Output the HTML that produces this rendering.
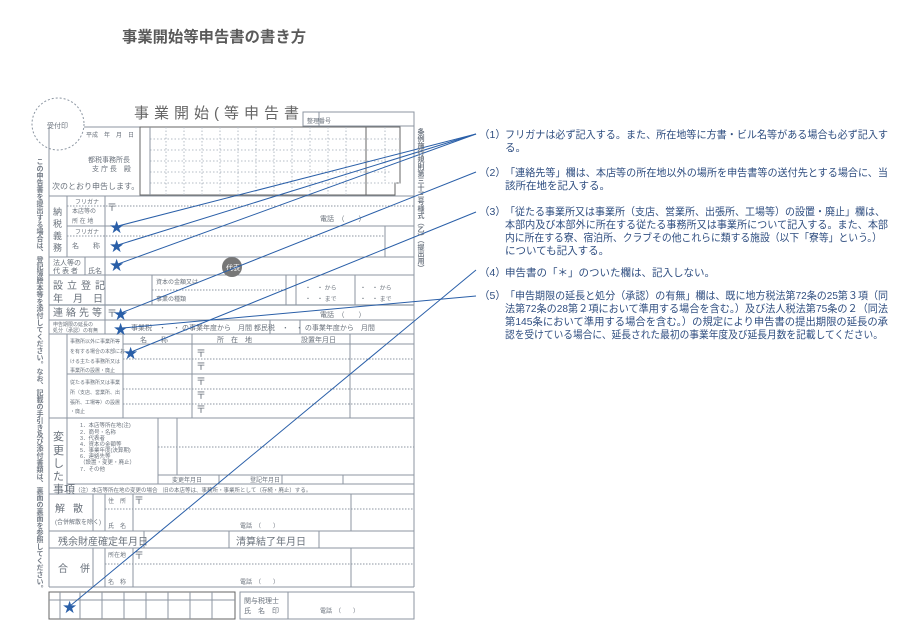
<!DOCTYPE html>
<html><head><meta charset="utf-8"><style>
html,body{margin:0;padding:0;background:#fff;}
body{position:relative;width:916px;height:640px;overflow:hidden;}
svg{display:block;font-family:"Liberation Sans","Noto Sans CJK JP",sans-serif;}
.vt{position:absolute;writing-mode:vertical-rl;font-family:"Liberation Sans","Noto Sans CJK JP",sans-serif;color:#737b86;white-space:nowrap;font-weight:bold;}
</style></head><body>
<svg width="916" height="640" viewBox="0 0 916 640" xmlns="http://www.w3.org/2000/svg">
<rect width="916" height="640" fill="#fff"/>
<text x="122" y="42" font-size="15.3" font-weight="bold" fill="#5a5a5a" textLength="184">事業開始等申告書の書き方</text>

<g stroke="#8c96a2" fill="none" stroke-width="1">
<circle cx="58" cy="124" r="26" stroke-dasharray="2,2"/>
<rect x="303" y="112" width="111" height="14"/>
<line x1="319" y1="112" x2="319" y2="126"/>
<line x1="49" y1="127" x2="49" y2="587"/>
<line x1="414" y1="112" x2="414" y2="587"/>
<line x1="84" y1="127" x2="140" y2="127"/>
<rect x="140" y="127" width="226" height="68" stroke="#666"/>
<path d="M366 127 H400 V183 H395 V195 H366" stroke="#666"/>
<g stroke="#b4bcc6" stroke-dasharray="1.5,2">
<line x1="150" y1="139" x2="400" y2="139"/><line x1="150" y1="150" x2="400" y2="150"/>
<line x1="150" y1="161" x2="390" y2="161"/><line x1="150" y1="172" x2="390" y2="172"/>
<line x1="150" y1="183" x2="400" y2="183"/>
<line x1="166" y1="127" x2="166" y2="195"/><line x1="184" y1="127" x2="184" y2="195"/><line x1="202" y1="127" x2="202" y2="195"/><line x1="220" y1="127" x2="220" y2="195"/><line x1="238" y1="127" x2="238" y2="195"/><line x1="256" y1="127" x2="256" y2="195"/><line x1="274" y1="127" x2="274" y2="195"/><line x1="292" y1="127" x2="292" y2="195"/><line x1="310" y1="127" x2="310" y2="195"/><line x1="328" y1="127" x2="328" y2="195"/><line x1="346" y1="127" x2="346" y2="195"/><line x1="385" y1="127" x2="385" y2="183"/>
</g>
<line x1="150" y1="127" x2="150" y2="195"/>
<line x1="49" y1="196" x2="414" y2="196"/>
<line x1="67" y1="196" x2="67" y2="257"/><line x1="105" y1="196" x2="105" y2="257"/>
<line x1="67" y1="206" x2="414" y2="206" stroke-dasharray="1.5,1.5"/>
<line x1="67" y1="226" x2="414" y2="226"/>
<line x1="67" y1="236" x2="385" y2="236" stroke-dasharray="1.5,1.5"/>
<rect x="385" y="226" width="29" height="31"/>
<line x1="49" y1="257" x2="414" y2="257"/>
<line x1="85" y1="257" x2="85" y2="275"/><line x1="105" y1="257" x2="105" y2="275"/>
<line x1="49" y1="275" x2="414" y2="275"/>
<line x1="105" y1="275" x2="105" y2="334"/>
<line x1="152" y1="275" x2="152" y2="305"/><line x1="286" y1="275" x2="286" y2="305"/><line x1="296" y1="275" x2="296" y2="305"/><line x1="355" y1="275" x2="355" y2="305"/>
<line x1="152" y1="290" x2="286" y2="290" stroke-dasharray="1.5,1.5"/>
<line x1="49" y1="305" x2="414" y2="305" stroke-width="1.3"/>
<line x1="49" y1="320" x2="414" y2="320"/>
<line x1="49" y1="334" x2="414" y2="334"/>
<line x1="270" y1="320" x2="270" y2="334"/><line x1="300" y1="320" x2="300" y2="334"/>
<line x1="67" y1="334" x2="67" y2="418"/><line x1="123" y1="334" x2="123" y2="418"/><line x1="192" y1="334" x2="192" y2="418"/><line x1="350" y1="334" x2="350" y2="418"/>
<line x1="123" y1="344" x2="414" y2="344"/><line x1="123" y1="374" x2="414" y2="374"/>
<line x1="123" y1="359" x2="414" y2="359" stroke-dasharray="1.5,1.5"/><line x1="123" y1="389" x2="414" y2="389" stroke-dasharray="1.5,1.5"/><line x1="123" y1="404" x2="414" y2="404" stroke-dasharray="1.5,1.5"/>
<line x1="67" y1="374" x2="123" y2="374"/>
<line x1="49" y1="418" x2="414" y2="418"/>
<line x1="67" y1="418" x2="67" y2="494"/><line x1="158" y1="418" x2="158" y2="484"/><line x1="177" y1="418" x2="177" y2="475"/>
<line x1="158" y1="447" x2="414" y2="447" stroke-dasharray="1.5,1.5"/>
<line x1="158" y1="475" x2="414" y2="475"/><line x1="67" y1="484" x2="414" y2="484"/>
<line x1="219" y1="475" x2="219" y2="484"/><line x1="282" y1="475" x2="282" y2="484"/><line x1="343" y1="475" x2="343" y2="484"/>
<line x1="49" y1="494" x2="414" y2="494"/>
<line x1="93" y1="494" x2="93" y2="531"/><line x1="105" y1="494" x2="105" y2="531"/><line x1="133" y1="494" x2="133" y2="531"/><line x1="351" y1="494" x2="351" y2="531"/>
<line x1="105" y1="509" x2="414" y2="509" stroke-dasharray="1.5,1.5"/>
<line x1="49" y1="531" x2="414" y2="531"/>
<line x1="144" y1="531" x2="144" y2="548"/><line x1="229" y1="531" x2="229" y2="548"/><line x1="319" y1="531" x2="319" y2="548"/>
<line x1="49" y1="548" x2="414" y2="548"/>
<line x1="93" y1="548" x2="93" y2="587"/><line x1="105" y1="548" x2="105" y2="587"/><line x1="133" y1="548" x2="133" y2="587"/><line x1="351" y1="548" x2="351" y2="587"/>
<line x1="105" y1="564" x2="414" y2="564" stroke-dasharray="1.5,1.5"/>
<line x1="49" y1="587" x2="414" y2="587"/>
<rect x="49" y="592" width="186" height="27" stroke="#666"/>
<line x1="49" y1="600" x2="235" y2="600"/>
<line x1="60" y1="592" x2="60" y2="619"/><line x1="80" y1="592" x2="80" y2="619"/><line x1="102" y1="592" x2="102" y2="619"/><line x1="124" y1="592" x2="124" y2="619"/><line x1="146" y1="592" x2="146" y2="619"/><line x1="168" y1="592" x2="168" y2="619"/><line x1="190" y1="592" x2="190" y2="619"/><line x1="212" y1="592" x2="212" y2="619"/>
<rect x="240" y="592" width="174" height="27"/>
<line x1="288" y1="592" x2="288" y2="619"/>
</g>

<g fill="#6a727c" font-size="10">
<text x="134" y="118" font-size="15" fill="#666" letter-spacing="5">事業開始(等申告書</text>
<text x="307" y="123" font-size="6">整理番号</text>
<text x="86" y="137" font-size="6">平成　年　月　日</text>
<text x="88" y="162" font-size="7">都税事務所長</text>
<text x="92" y="171" font-size="7">支 庁 長　殿</text>
<text x="52" y="189" font-size="8">次のとおり申告します。</text>
<text x="53" y="215" font-size="9">納</text><text x="53" y="227" font-size="9">税</text><text x="53" y="239" font-size="9">義</text><text x="53" y="251" font-size="9">務</text>
<text x="75" y="204" font-size="6">フリガナ</text>
<text x="72" y="213" font-size="6">本店等の</text>
<text x="72" y="223" font-size="6">所 在 地</text>
<text x="75" y="234" font-size="6">フリガナ</text>
<text x="72" y="248" font-size="7">名　　称</text>
<text x="53" y="265" font-size="7">法人等の</text>
<text x="53" y="273" font-size="7">代 表 者</text>
<text x="88" y="273" font-size="7">氏名</text>
<text x="320" y="221" font-size="7">電話　（　　）</text>
<text x="53" y="289" font-size="10" letter-spacing="4">設立登記</text>
<text x="53" y="302" font-size="10" letter-spacing="10">年月日</text>
<text x="156" y="284" font-size="6">資本の金額又は</text>
<text x="156" y="301" font-size="6">事業の種類</text>
<text x="305" y="290" font-size="6">・　・ から</text>
<text x="305" y="301" font-size="6">・　・ まで</text>
<text x="360" y="290" font-size="6">・　・ から</text>
<text x="360" y="301" font-size="6">・　・ まで</text>
<text x="53" y="316" font-size="10" letter-spacing="3">連絡先等</text>
<text x="320" y="317" font-size="7">電話　（　　）</text>
<text x="53" y="326" font-size="5">申告期限の延長の</text>
<text x="53" y="332" font-size="5">処分（承認）の有無</text>
<text x="131" y="330" font-size="7">事業税　・　・ の事業年度から　月間 都民税　・　・ の事業年度から　月間</text>
<text x="140" y="342" font-size="7">名　　称　　　　　　　所　在　地　　　　　　　設置年月日</text>
<text x="70" y="343" font-size="5">事務所以外に事業所等</text>
<text x="70" y="353" font-size="5">を有する場合の本部にお</text>
<text x="70" y="363" font-size="5">ける主たる事務所又は</text>
<text x="70" y="372" font-size="5">事業所の設置・廃止</text>
<text x="70" y="384" font-size="5">従たる事務所又は事業</text>
<text x="70" y="394" font-size="5">所（支店、営業所、出</text>
<text x="70" y="404" font-size="5">張所、工場等）の設置</text>
<text x="70" y="413" font-size="5">・廃止</text>
<text x="196" y="357">〒</text><text x="196" y="370">〒</text><text x="196" y="385">〒</text><text x="196" y="399">〒</text><text x="196" y="413">〒</text>
<text x="107" y="317">〒</text><text x="107" y="211">〒</text><text x="134" y="504">〒</text><text x="134" y="559">〒</text>
<text x="53" y="440" font-size="11">変</text><text x="53" y="454" font-size="11">更</text><text x="53" y="467" font-size="11">し</text><text x="53" y="480" font-size="11">た</text><text x="53" y="493" font-size="11">事項</text>
<text x="80" y="427" font-size="5.5">1．本店等所在地(注)</text>
<text x="80" y="434" font-size="5.5">2．商号・名称</text>
<text x="80" y="440" font-size="5.5">3．代表者</text>
<text x="80" y="446" font-size="5.5">4．資本の金額等</text>
<text x="80" y="452" font-size="5.5">5．事業年度(決算期)</text>
<text x="80" y="458" font-size="5.5">6．連絡先等</text>
<text x="80" y="464" font-size="5.5">（設置・変更・廃止）</text>
<text x="80" y="471" font-size="5.5">7．その他</text>
<text x="172" y="482" font-size="6">変更年月日　　　　　　　　登記年月日</text>
<text x="75" y="492" font-size="5.5">（注）本店等所在地の変更の場合　旧の本店等は、事務所・事業所として（存続・廃止）する。</text>
<text x="55" y="512" font-size="10" letter-spacing="8">解散</text>
<text x="55" y="524" font-size="6">(合併解散を除く)</text>
<text x="58" y="545" font-size="10">残余財産確定年月日</text>
<text x="236" y="545" font-size="10">清算結了年月日</text>
<text x="58" y="572" font-size="10" letter-spacing="12">合併</text>
<text x="108" y="503" font-size="6">住　所</text><text x="108" y="528" font-size="6">氏　名</text>
<text x="108" y="557" font-size="6">所在地</text><text x="108" y="584" font-size="6">名　称</text>
<text x="240" y="528" font-size="6">電話　（　　）</text>
<text x="240" y="584" font-size="6">電話　（　　）</text>
<text x="244" y="603" font-size="7">関与税理士</text>
<text x="244" y="613" font-size="7">氏　名　印</text>
<text x="320" y="613" font-size="6">電話　（　　）</text>
<text x="47" y="128" font-size="7">受付印</text>
</g>
<circle cx="232" cy="267" r="10" fill="#777"/>
<text x="226" y="270" font-size="7" fill="#fff" font-family="Noto Sans CJK JP">代表</text>

<g stroke="#2a5fa8" stroke-width="1" fill="none">
<line x1="118" y1="226" x2="476" y2="134"/>
<line x1="118" y1="245" x2="476" y2="134"/>
<line x1="118" y1="264" x2="476" y2="134"/>
<line x1="121" y1="313" x2="476" y2="172"/>
<line x1="131" y1="352" x2="476" y2="212"/>
<line x1="70" y1="606" x2="476" y2="270"/>
<line x1="123" y1="328" x2="476" y2="296"/>
</g>
<g fill="#2a5fa8" font-size="17" font-family="DejaVu Sans,sans-serif">
<text x="109" y="233">★</text><text x="109" y="252">★</text><text x="109" y="271">★</text>
<text x="113" y="320">★</text><text x="113" y="335">★</text><text x="123" y="359">★</text>
<text x="62" y="613">★</text>
</g>

<g fill="#2f4e80" font-size="10.5">
<text x="479" y="138">（1）</text>
<text x="505" y="138" textLength="383" lengthAdjust="spacingAndGlyphs">フリガナは必ず記入する。また、所在地等に方書・ビル名等がある場合も必ず記入す</text>
<text x="505" y="151">る。</text>
<text x="479" y="176">（2）</text>
<text x="505" y="176" textLength="383" lengthAdjust="spacingAndGlyphs">「連絡先等」欄は、本店等の所在地以外の場所を申告書等の送付先とする場合に、当</text>
<text x="505" y="189">該所在地を記入する。</text>
<text x="479" y="215">（3）</text>
<text x="505" y="215" textLength="380" lengthAdjust="spacingAndGlyphs">「従たる事業所又は事業所（支店、営業所、出張所、工場等）の設置・廃止」欄は、</text>
<text x="505" y="228" textLength="383" lengthAdjust="spacingAndGlyphs">本部内及び本部外に所在する従たる事務所又は事業所について記入する。また、本部</text>
<text x="505" y="241" textLength="377" lengthAdjust="spacingAndGlyphs">内に所在する寮、宿泊所、クラブその他これらに類する施設（以下「寮等」という。）</text>
<text x="505" y="254">についても記入する。</text>
<text x="479" y="276">（4）</text>
<text x="505" y="276">申告書の「＊」のついた欄は、記入しない。</text>
<text x="479" y="299">（5）</text>
<text x="505" y="299" textLength="383" lengthAdjust="spacingAndGlyphs">「申告期限の延長と処分（承認）の有無」欄は、既に地方税法第72条の25第３項（同</text>
<text x="505" y="312" textLength="383" lengthAdjust="spacingAndGlyphs">法第72条の28第２項において準用する場合を含む。）及び法人税法第75条の２（同法</text>
<text x="505" y="325" textLength="383" lengthAdjust="spacingAndGlyphs">第145条において準用する場合を含む。）の規定により申告書の提出期限の延長の承</text>
<text x="505" y="338" textLength="378" lengthAdjust="spacingAndGlyphs">認を受けている場合に、延長された最初の事業年度及び延長月数を記載してください。</text>
</g>
</svg>
<div class="vt" style="left:35px;top:158px;font-size:7px;line-height:9px;letter-spacing:0px;">この申告書を提出する場合は、登記簿謄本等を添付してください。なお、記載の手引き及び添付書類は、裏面の裏面を参照してください。</div>
<div class="vt" style="left:416px;top:128px;font-size:7px;line-height:9px;">条例施行規則第三十三号様式（乙）（提出用）</div>
</body></html>
